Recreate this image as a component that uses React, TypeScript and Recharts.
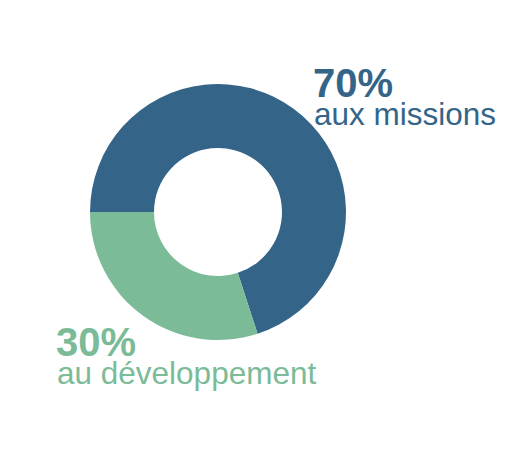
import { Cell, Pie, PieChart } from "recharts"

const shares = [70, 30]
const captions = ["aux missions", "au développement"]
const colors = ["#346589", "#7bbb98"]

const data = shares.map((value, i) => ({ name: captions[i], value }))

// where each caption block sits (left x, baseline of the big number)
const labelSpots = [
  { x: 313, y: 97 },
  { x: 56, y: 356 },
]

export default function App() {
  return (
    <div style={{ position: "absolute", left: 0, top: 0, width: 520, height: 464, background: "#fff" }}>
      <PieChart width={520} height={464} margin={{ top: 0, right: 0, bottom: 0, left: 0 }}>
        <Pie
          data={data}
          dataKey="value"
          cx={218}
          cy={212}
          innerRadius={64}
          outerRadius={128}
          startAngle={180}
          endAngle={-180}
          stroke="none"
          isAnimationActive={false}
        >
          {data.map((d, i) => (
            <Cell key={d.name} fill={colors[i]} />
          ))}
        </Pie>
      </PieChart>
      <svg
        width={520}
        height={464}
        style={{ position: "absolute", left: 0, top: 0, pointerEvents: "none" }}
        fontFamily="'Liberation Sans', Arial, sans-serif"
      >
        {data.map((d, i) => (
          <g key={d.name} fill={colors[i]}>
            <text x={labelSpots[i].x} y={labelSpots[i].y} fontSize={40} fontWeight="bold">
              {`${d.value}%`}
            </text>
            <text x={labelSpots[i].x + 1} y={labelSpots[i].y + 28} fontSize={31.5}>
              {d.name}
            </text>
          </g>
        ))}
      </svg>
    </div>
  )
}
